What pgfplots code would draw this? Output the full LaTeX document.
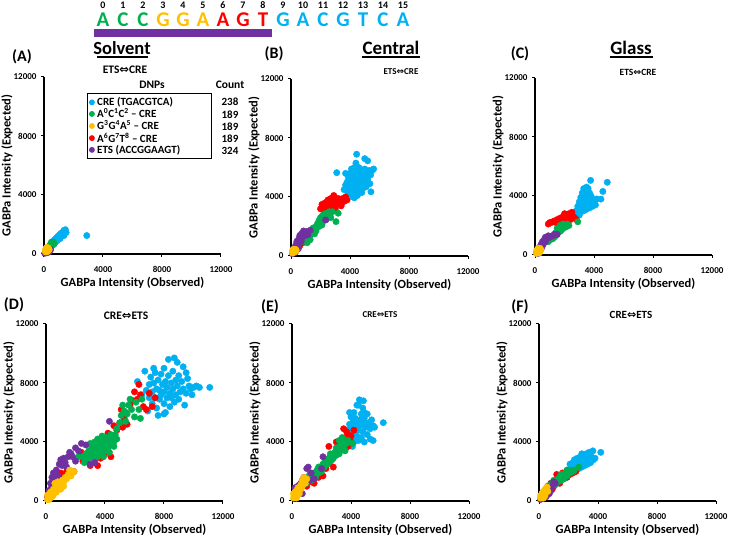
\documentclass[border=0pt]{standalone}
\usepackage{pgfplots}
\pgfplotsset{compat=1.18}
\usepackage{fontspec}
\setmainfont{Carlito}
\newfontfamily\dejavu{DejaVu Sans}
\definecolor{cblue}{HTML}{00B0F0}
\definecolor{cgreen}{HTML}{00B050}
\definecolor{cyellow}{HTML}{FFC000}
\definecolor{cred}{HTML}{FF0000}
\definecolor{cpurple}{HTML}{7030A0}
\newcommand{\dar}{{\dejavu\bfseries ⇔}}
\newcommand{\fs}[1]{\fontsize{#1}{#1}\selectfont}
\pgfplotsset{
 dot/.style={only marks, mark=*, mark size=3.2pt, mark options={draw=#1, fill=#1}},
 panel/.style={width=177pt, height=177pt, scale only axis, anchor=south west,
  xmin=0, xmax=12000, ymin=0, ymax=12000, axis lines=left,
  axis line style={line width=1.3pt, -, black},
  xtick={0,4000,8000,12000}, ytick={0,4000,8000,12000},
  tick align=outside, major tick length=3pt, tick style={line width=1pt, black},
  scaled ticks=false, /pgf/number format/assume math mode=true,
  /pgf/number format/set thousands separator={},
  tick label style={font=\bfseries\fs{9}},
  xticklabel style={yshift=-6pt},
  yticklabel style={xshift=-1pt},
  xlabel={GABPa Intensity (Observed)}, ylabel={GABPa Intensity (Expected)},
  xlabel style={at={(axis description cs:0.5,0)}, anchor=center, yshift=-29pt},
  ylabel style={at={(axis description cs:-0.209,0.5)}, anchor=center},
  label style={font=\bfseries\fs{12.5}}, clip=false}
}
\begin{document}
\begin{tikzpicture}
\path[use as bounding box] (0,0) rectangle (729pt,538pt);
% sequence
\foreach \l/\c [count=\i from 0] in {A/cgreen,C/cgreen,C/cgreen,G/cyellow,G/cyellow,A/cyellow,A/cred,G/cred,T/cred,G/cblue,A/cblue,C/cblue,G/cblue,T/cblue,C/cblue,A/cblue}{
 \node[text=\c, font=\bfseries\fs{21}, inner sep=0pt] at ({103pt+20pt*\i},518pt) {\l};
 \node[font=\bfseries\fs{10}, inner sep=0pt] at ({103pt+20pt*\i},533pt) {\i};
}
\fill[cpurple] (94pt,501pt) rectangle (272pt,509pt);
% titles
\node[font=\bfseries\fs{18.5}, inner sep=0pt] at (122pt,490pt) {Solvent};
\draw[line width=1.3pt] (97pt,481pt) -- (148pt,481pt);
\node[font=\bfseries\fs{19}, inner sep=0pt] at (391pt,490pt) {Central};
\draw[line width=1.3pt] (362pt,481pt) -- (420pt,481pt);
\node[font=\bfseries\fs{19}, inner sep=0pt] at (631pt,490pt) {Glass};
\draw[line width=1.3pt] (610pt,481pt) -- (653pt,481pt);
% panel letters
\node[font=\bfseries\fs{16}] at (22pt,481pt) {(A)};
\node[font=\bfseries\fs{16}] at (274pt,484pt) {(B)};
\node[font=\bfseries\fs{16}] at (520pt,484pt) {(C)};
\node[font=\bfseries\fs{16}] at (14pt,233pt) {(D)};
\node[font=\bfseries\fs{16}] at (270pt,231pt) {(E)};
\node[font=\bfseries\fs{16}] at (520pt,231pt) {(F)};
% subtitles
\node[font=\bfseries\fs{11.5}] at (125pt,468pt) {ETS\dar CRE};
\node[font=\bfseries\fs{9}] at (401pt,466pt) {ETS\dar CRE};
\node[font=\bfseries\fs{9.5}] at (638pt,466pt) {ETS\dar CRE};
\node[font=\bfseries\fs{11.5}] at (126pt,222pt) {CRE\dar ETS};
\node[font=\bfseries\fs{9}] at (380pt,223pt) {CRE\dar ETS};
\node[font=\bfseries\fs{11}] at (631pt,223pt) {CRE\dar ETS};
% legend headers and counts
\node[font=\bfseries\fs{11.5}] at (152pt,453pt) {DNPs};
\node[font=\bfseries\fs{11.5}] at (230pt,453pt) {Count};
\foreach \n/\y in {238/436,189/423,189/411,189/399,324/387}{
 \node[font=\bfseries\fs{11}] at (230pt,\y pt) {\n};
}
% ---------- A ----------
\begin{axis}[panel, at={(44pt,284pt)},
 legend style={at={(0.243,0.91)}, anchor=north west, draw=black, line width=1.2pt,
  font=\bfseries\fs{11}, row sep=-2.5pt, inner sep=2pt, column sep=1pt},
 legend cell align=left]
\addlegendimage{only marks, mark=*, mark size=2.3pt, mark options={draw=cblue, fill=cblue}}
\addlegendentry{CRE (TGACGTCA)}
\addlegendimage{only marks, mark=*, mark size=2.3pt, mark options={draw=cgreen, fill=cgreen}}
\addlegendentry{A\textsuperscript{0}C\textsuperscript{1}C\textsuperscript{2} – CRE}
\addlegendimage{only marks, mark=*, mark size=2.3pt, mark options={draw=cyellow, fill=cyellow}}
\addlegendentry{G\textsuperscript{3}G\textsuperscript{4}A\textsuperscript{5} – CRE}
\addlegendimage{only marks, mark=*, mark size=2.3pt, mark options={draw=cred, fill=cred}}
\addlegendentry{A\textsuperscript{6}G\textsuperscript{7}T\textsuperscript{8} – CRE}
\addlegendimage{only marks, mark=*, mark size=2.3pt, mark options={draw=cpurple, fill=cpurple}}
\addlegendentry{\makebox[110pt][l]{ETS (ACCGGAAGT)}}
\addplot[dot=cblue, forget plot] coordinates {(400,600)(500,700)(550,800)(600,750)(650,900)(700,850)(750,1000)(800,950)(850,1100)(900,1050)(950,1200)(1000,1150)(1050,1300)(1100,1250)(1150,1400)(1200,1350)(1250,1450)(1300,1500)(1350,1600)(1400,1550)(1450,1650)(1300,1350)(1100,1050)(900,900)(1200,1200)(1500,1450)(1000,1000)(700,700)(1350,1250)(2900,1250)};
\addplot[dot=cred, forget plot] coordinates {(150,200)(250,300)(350,400)(450,500)};
\addplot[dot=cgreen, forget plot] coordinates {(300,400)(350,500)(400,550)(450,600)(500,650)(550,700)(600,750)(650,800)(500,800)(600,600)(400,450)(700,700)};
\addplot[dot=cpurple, forget plot] coordinates {(50,50)(100,100)(150,80)(200,150)(250,100)(300,200)(350,150)(100,200)(400,250)(450,300)};
\addplot[dot=cyellow, forget plot] coordinates {(100,150)(150,250)(200,300)(250,350)(300,400)(200,450)(100,300)(250,200)(350,300)(150,400)(300,250)(200,150)};
\end{axis}
% ---------- B ----------
\begin{axis}[panel, at={(291pt,282pt)}]
\addplot[dot=cblue] coordinates {(3600,4500)(3700,4800)(3800,5000)(3800,4400)(3900,4700)(3900,5300)(4000,4200)(4000,5000)(4000,5600)(4100,4500)(4100,5200)(4100,5900)(4200,4000)(4200,4800)(4200,5500)(4300,4300)(4300,5100)(4300,6000)(4400,4600)(4400,5400)(4400,6300)(4500,4100)(4500,4900)(4500,5700)(4600,4400)(4600,5200)(4600,6000)(4700,4700)(4700,5500)(4800,4300)(4800,5000)(4800,5800)(4900,4600)(4900,5300)(5000,5000)(5000,5900)(5100,4700)(5100,5500)(5200,5200)(5300,5800)(5400,5500)(3100,5650)(4450,6900)(5000,6600)(5200,6450)(5350,4900)(5420,4350)(5500,5800)(5600,5900)(3700,5600)(4300,3950)};
\addplot[dot=cred] coordinates {(2000,3200)(2100,3500)(2200,3300)(2300,3600)(2400,3400)(2500,3800)(2500,3200)(2600,3500)(2700,3300)(2700,3900)(2800,3600)(2900,3400)(2900,4100)(3000,3700)(3100,3500)(3200,3900)(3300,3700)(3400,3400)(3500,3900)(3600,3700)(3700,4000)(3800,3800)(3000,3200)(2300,3000)(1500,1800)(1200,1400)(1000,1100)(1800,2000)(800,900)(600,700)};
\addplot[dot=cgreen] coordinates {(800,1000)(900,1100)(1000,1300)(1100,1200)(1200,1500)(1300,1400)(1400,1700)(1500,1600)(1500,1900)(1600,1800)(1700,2000)(1700,1700)(1800,2200)(1900,2000)(2000,2300)(2000,2600)(2100,2100)(2200,2400)(2200,2800)(2300,2600)(2400,2500)(2400,2900)(2500,2700)(2600,2800)(2700,2600)(2800,3000)(3050,2330)(3200,2900)(1300,1100)(1100,900)(1600,1500)(1900,2400)(2100,2700)(2600,3000)(1000,1000)};
\addplot[dot=cpurple] coordinates {(100,150)(150,400)(200,250)(250,600)(300,450)(350,800)(400,650)(450,1000)(500,850)(550,1200)(600,1050)(650,1350)(700,1250)(750,1550)(800,1400)(850,1700)(950,1600)(1050,1650)(1300,1750)(1150,1450)(500,500)(700,1000)(900,1350)(2350,2440)(300,250)(400,1000)(600,1400)};
\addplot[dot=cyellow] coordinates {(100,200)(150,300)(200,400)(250,350)(300,300)(200,250)(100,350)(300,450)(350,400)(150,450)};
\end{axis}
% ---------- C ----------
\begin{axis}[panel, at={(535pt,283pt)}]
\addplot[dot=cblue] coordinates {(2700,2800)(2800,3000)(2900,2900)(2900,3300)(3000,3100)(3000,3600)(3100,2900)(3100,3400)(3100,3900)(3200,3200)(3200,3700)(3200,4200)(3300,3000)(3300,3500)(3300,4000)(3400,3300)(3400,3800)(3400,4400)(3500,3100)(3500,3600)(3500,4100)(3600,3400)(3600,3900)(3600,4500)(3700,3200)(3700,3700)(3700,4200)(3800,3500)(3800,4000)(3900,3300)(3900,3800)(4000,3600)(4100,3400)(4200,3800)(3770,5060)(4900,4930)(4600,4310)(4470,3790)(3500,4600)(3300,4500)(2900,2700)(3000,2700)};
\addplot[dot=cred] coordinates {(900,2100)(1000,2200)(1100,2200)(1200,2250)(1300,2300)(1400,2200)(1500,2400)(1600,2300)(1700,2500)(1800,2400)(1900,2600)(2000,2500)(2100,2700)(2200,2600)(2300,2800)(2400,2700)(2500,2900)(2600,2600)(2700,2500)(2800,2400)(2200,2300)(2000,2800)(1700,2200)(2400,2400)(300,500)(500,700)(700,900)(400,400)};
\addplot[dot=cgreen] coordinates {(1000,1000)(1100,1100)(1200,1300)(1300,1200)(1400,1500)(1500,1400)(1600,1700)(1700,1600)(1800,1900)(1900,1800)(2000,2000)(2100,1900)(2200,2100)(1500,1800)(1400,1300)(1800,1700)(2900,2250)(1700,2000)(1200,1100)(900,900)(2300,2000)(1900,2100)};
\addplot[dot=cpurple] coordinates {(100,150)(200,300)(300,200)(300,500)(400,400)(400,700)(500,600)(500,900)(600,800)(600,1000)(700,900)(800,1100)(900,1300)(1000,1200)(1300,1400)(1500,1400)(200,100)(350,350)(700,1200)(1200,1300)};
\addplot[dot=cyellow] coordinates {(100,100)(150,250)(200,350)(250,200)(300,300)(350,450)(200,450)(100,300)(300,150)(400,350)};
\end{axis}
% ---------- D ----------
\begin{axis}[panel, at={(46pt,37pt)}]
\addplot[dot=cblue] coordinates {(6200,8100)(6500,7200)(6700,8800)(6800,7500)(7000,7000)(7000,7900)(7100,8400)(7200,6600)(7200,7400)(7300,8000)(7400,7000)(7400,8700)(7500,7600)(7500,6300)(7600,8200)(7700,6900)(7700,7500)(7800,8600)(7800,7200)(7900,7900)(8000,6600)(8000,7400)(8000,9000)(8100,8100)(8100,6000)(8200,7000)(8200,7700)(8300,8500)(8300,9600)(8400,7300)(8400,6400)(8500,8000)(8500,7000)(8600,7600)(8600,8800)(8700,6700)(8700,9700)(8800,7200)(8800,8200)(8900,7800)(9000,6900)(9000,8500)(9100,7400)(9200,8100)(9300,7600)(9300,9100)(9400,6500)(9500,7300)(9600,8300)(9700,7800)(9800,7600)(10000,7700)(9500,8700)(7600,5800)(8000,5900)(6900,6100)(11100,7700)(8900,9400)(7300,9000)(10200,7800)(10400,7700)(9900,7200)};
\addplot[dot=cred] coordinates {(700,1500)(900,1200)(1000,1900)(1200,1700)(1400,2000)(1600,1800)(1900,2000)(2500,2700)(2800,3000)(3000,2400)(3200,3300)(3500,2400)(3700,2900)(3900,3100)(4200,3300)(4400,3000)(4200,4600)(4500,4200)(4800,4800)(4600,5100)(5000,5300)(5200,5000)(5400,6000)(5100,6200)(5700,6500)(5900,6800)(6000,7400)(6200,6900)(6400,7200)(6600,6400)(6800,6200)(7200,6400)(7400,7000)(7000,7300)(5500,5200)(4000,4200)(2400,3300)(3300,2800)(6300,7900)(5300,5600)};
\addplot[dot=cgreen] coordinates {(2500,3000)(2700,3200)(2800,2800)(2900,3400)(3000,3100)(3100,3700)(3200,2900)(3200,3500)(3300,4000)(3400,3200)(3400,3700)(3500,3000)(3500,4200)(3600,3500)(3700,3900)(3700,3200)(3800,4400)(3800,3600)(3900,3000)(3900,4000)(4000,3400)(4000,3800)(4100,4300)(4200,3600)(4200,4000)(4300,3300)(4400,3900)(4400,4500)(4500,4200)(4600,3700)(4700,4500)(3000,3900)(2600,2600)(2200,3000)(5000,5300)(5100,5800)(5300,6100)(5500,5900)(5600,6500)(5800,6200)(6000,5700)(6100,6700)(6300,6200)(6500,6900)(6400,5600)(5400,5400)(4800,4900)(5200,6500)(5700,6900)(3300,3300)(3600,4100)(4100,3500)(4300,4200)(3500,3500)(2900,3000)(4600,4000)(3100,3200)(4800,4200)};
\addplot[dot=cpurple] coordinates {(100,300)(200,700)(300,1200)(400,900)(400,1600)(500,1900)(600,1400)(700,2100)(800,1700)(900,2500)(1000,2800)(1100,2400)(1200,2900)(1300,2600)(1500,3000)(1700,3200)(1800,3000)(2000,3600)(2200,3400)(2400,3900)(2000,2700)(1400,2300)(3000,2500)(4300,5400)(200,400)(300,800)(600,1800)(2700,3800)(1600,3300)(500,1000)(3300,2600)};
\addplot[dot=cyellow] coordinates {(100,100)(200,300)(300,200)(300,600)(400,500)(500,800)(500,400)(600,700)(700,1000)(800,900)(900,1200)(1000,1100)(1100,1400)(1200,1300)(1300,1600)(1400,1500)(1500,1800)(1700,1700)(1900,2000)(200,100)(400,300)(700,600)(1000,800)(800,1300)(1600,2100)(100,400)(600,1200)(1200,1000)};
\end{axis}
% ---------- E ----------
\begin{axis}[panel, at={(292pt,37pt)}]
\addplot[dot=cblue] coordinates {(3700,4300)(3800,4000)(3800,4800)(3900,4500)(3900,5200)(4000,3800)(4000,4900)(4000,5700)(4100,4300)(4100,5300)(4200,4000)(4200,4700)(4200,6000)(4300,5000)(4300,5600)(4400,4400)(4400,5300)(4500,4100)(4500,4800)(4500,6500)(4600,5500)(4600,5100)(4700,4300)(4700,5900)(4800,4700)(4800,5300)(4900,4000)(4900,5600)(5000,5000)(5100,4500)(5100,5900)(5200,5300)(5300,4200)(5300,4900)(5400,5500)(5500,4100)(5500,5100)(4570,6860)(4840,6790)(6190,5310)(4400,6500)(4800,6300)(4900,6000)(5600,5000)(3900,6000)(4100,3700)};
\addplot[dot=cred] coordinates {(1000,1000)(1300,1300)(1500,1200)(1800,1600)(2100,1700)(2300,2200)(2500,2600)(2600,3000)(2800,2300)(2900,3100)(3000,4000)(3100,3400)(3300,3600)(3500,4900)(3600,4300)(3700,4700)(3800,4500)(4000,4400)(4200,4800)(2500,3700)(3400,4000)(3800,3700)(2000,2200)(2700,2800)(4000,4000)};
\addplot[dot=cgreen] coordinates {(1100,1500)(1200,1800)(1300,1400)(1400,1700)(1500,1900)(1600,1600)(1700,2100)(1800,1900)(1900,2300)(2000,2000)(2100,2500)(2200,2300)(2300,2700)(2400,2500)(2500,2900)(2600,2700)(2700,3100)(2800,2900)(2900,3300)(3000,3100)(3100,3500)(3200,3200)(3300,3800)(3400,3500)(3500,3700)(3600,3400)(3700,3900)(3800,4100)(3200,4100)(3500,4200)(3000,3600)(2600,3200)(2200,2600)(1800,2300)(1500,1500)(1000,1200)(4100,3900)(3600,3900)(3400,4300)};
\addplot[dot=cpurple] coordinates {(200,200)(300,700)(400,500)(400,1000)(500,800)(600,1200)(700,1400)(800,1100)(800,1600)(1000,1500)(1000,2200)(1100,2300)(1300,1900)(1500,1500)(2000,2200)(2100,3000)(300,400)(500,1100)(200,900)(600,600)(1200,1400)(700,500)};
\addplot[dot=cyellow] coordinates {(100,200)(200,400)(300,300)(300,700)(400,600)(500,900)(500,500)(600,1100)(700,1000)(700,1400)(800,1300)(900,1200)(1000,1500)(800,1600)(200,600)(400,900)(600,800)(100,500)(300,200)};
\end{axis}
% ---------- F ----------
\begin{axis}[panel, at={(539pt,37pt)}]
\addplot[dot=cblue] coordinates {(2000,2100)(2200,2300)(2300,2100)(2300,2600)(2400,2400)(2400,2800)(2500,2200)(2500,2600)(2600,2400)(2600,2900)(2700,2200)(2700,2700)(2800,2500)(2800,3000)(2900,2300)(2900,2800)(3000,2600)(3000,3100)(3100,2400)(3100,2900)(3200,2700)(3200,3200)(3300,2500)(3300,3000)(3400,2800)(3500,2600)(3500,3100)(3600,2900)(3650,3400)(4190,3300)(3800,2900)(2100,2500)(2900,3200)(3400,3300)(3700,2800)(2200,1900)};
\addplot[dot=cred] coordinates {(600,1000)(800,1200)(1000,1000)(1200,1800)(1300,1400)(1500,1500)(1700,1700)(1900,1600)(2100,1800)(2300,1900)(2500,2000)(1100,1300)(1400,1200)(1600,1900)(900,800)};
\addplot[dot=cgreen] coordinates {(800,1100)(1000,1200)(1100,1100)(1200,1400)(1300,1300)(1400,1600)(1500,1400)(1600,1700)(1700,1500)(1800,1900)(1900,1700)(2000,2000)(2100,1900)(2200,2100)(2400,2100)(2700,2300)(1500,1800)(1300,1500)(1900,2100)(2300,2000)(1000,1400)};
\addplot[dot=cpurple] coordinates {(100,100)(200,300)(300,200)(300,500)(400,400)(500,700)(500,300)(600,600)(700,900)(800,700)(900,1000)(1000,1300)(400,700)(600,900)(200,500)(700,500)(1100,1200)};
\addplot[dot=cyellow] coordinates {(100,200)(150,400)(200,300)(250,600)(300,500)(350,700)(400,600)(450,850)(500,750)(550,950)(600,650)(200,500)(300,200)(400,350)(100,350)};
\end{axis}
\end{tikzpicture}
\end{document}
